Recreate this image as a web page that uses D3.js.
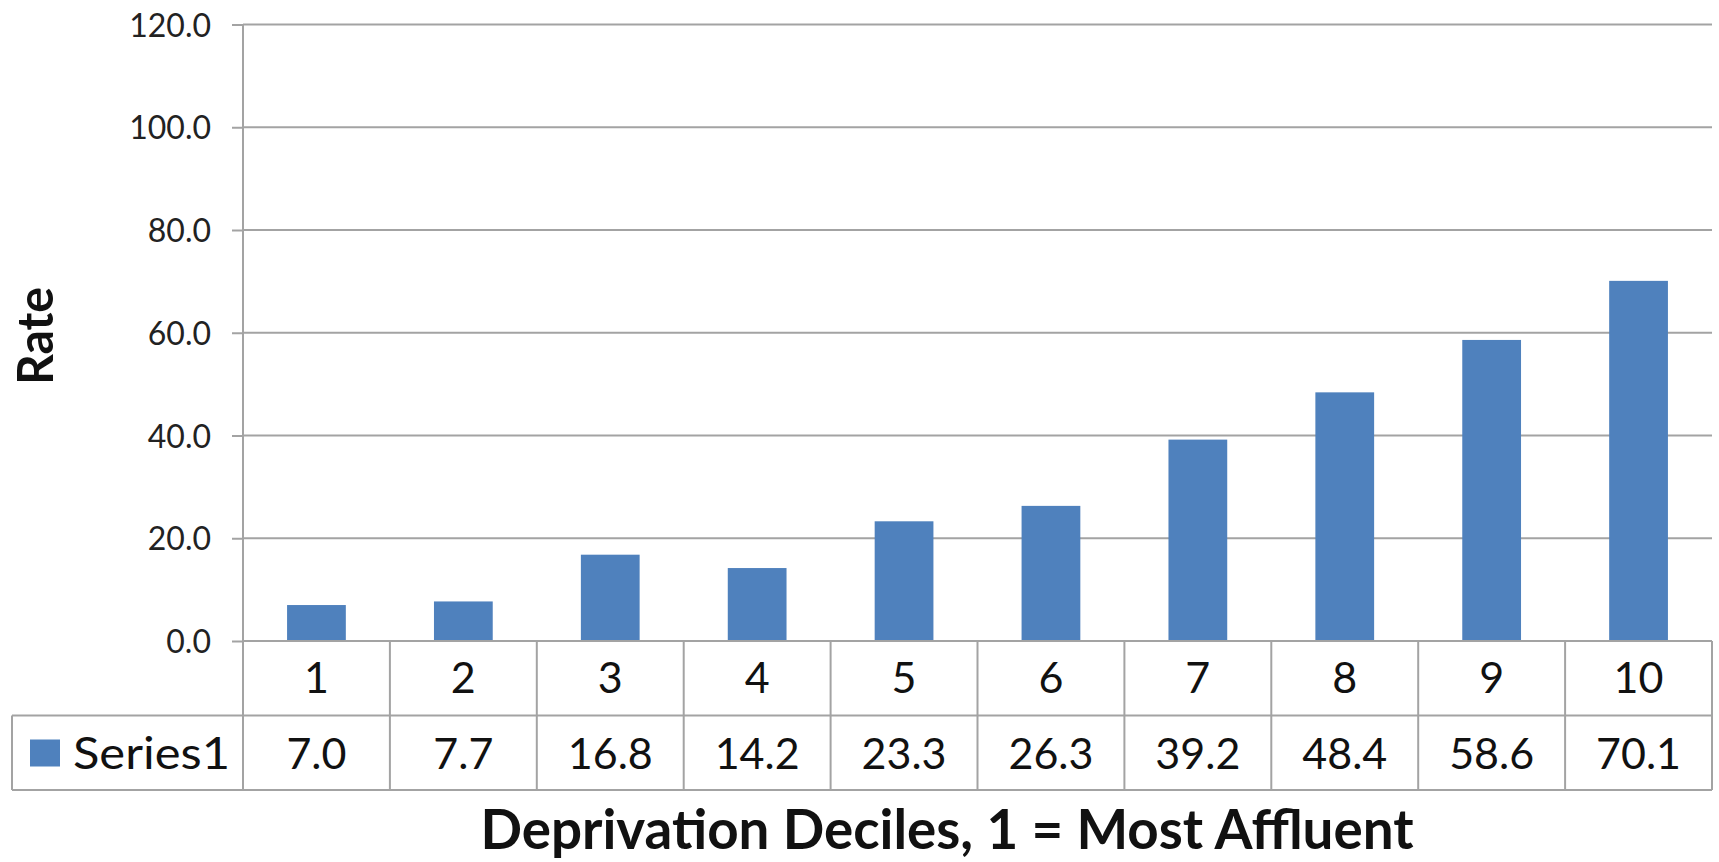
<!DOCTYPE html>
<html>
<head>
<meta charset="utf-8">
<script src="https://cdn.jsdelivr.net/npm/d3@7"></script>
<style>
  html, body { margin: 0; padding: 0; background: #fff; }
  svg { display: block; }
  text { font-family: Lato, "Open Sans", sans-serif; fill: #111; }
</style>
</head>
<body>
<svg id="chart" width="1719" height="862"></svg>
<script>
// Rate by deprivation decile
const categories = ["1", "2", "3", "4", "5", "6", "7", "8", "9", "10"];
const seriesName = "Series1";
const values = [7.0, 7.7, 16.8, 14.2, 23.3, 26.3, 39.2, 48.4, 58.6, 70.1];
const yTicks = [0, 20, 40, 60, 80, 100, 120];
const yTitle = "Rate";
const xTitle = "Deprivation Deciles, 1 = Most Affluent";

const W = 1719, H = 862;
const plot = { left: 243, right: 1712, top: 24.5, bottom: 641 };
const rowH = 74.5;           // height of each data-table row
const legendLeft = 12;
const lineColor = "#a3a3a3";
const barColor = "#4f81bd";

const svg = d3.select("#chart");

const y = d3.scaleLinear().domain([0, 120]).range([plot.bottom, plot.top]);
const xCell = d3.scaleBand().domain(categories).range([plot.left, plot.right]).padding(0);
const xBar = d3.scaleBand().domain(categories).range([plot.left, plot.right])
  .paddingInner(0.6).paddingOuter(0.3);

// Horizontal gridlines and y axis with tick labels
const yAxis = d3.axisLeft(y).tickValues(yTicks).tickSize(11).tickSizeOuter(0)
  .tickFormat(d3.format(".1f"));
const gy = svg.append("g").attr("transform", `translate(${plot.left},0)`).call(yAxis);
gy.select(".domain").remove();
gy.selectAll(".tick line").attr("stroke", lineColor).attr("stroke-width", 2);
gy.selectAll(".tick text")
  .attr("x", -32).attr("dy", "0.36em")
  .style("font-family", "Lato, sans-serif").style("font-size", "32px").style("fill", "#222");

svg.append("g").selectAll("line").data(yTicks.filter(d => d > 0)).join("line")
  .attr("x1", plot.left).attr("x2", plot.right)
  .attr("y1", d => y(d)).attr("y2", d => y(d))
  .attr("stroke", lineColor).attr("stroke-width", 2);

// Bars
svg.append("g").selectAll("rect").data(values).join("rect")
  .attr("x", (d, i) => xBar(categories[i]))
  .attr("width", xBar.bandwidth())
  .attr("y", d => y(d))
  .attr("height", d => y(0) - y(d))
  .attr("fill", barColor);

// Data table beneath the axis
const t = svg.append("g").attr("stroke", lineColor).attr("stroke-width", 2);
const row1 = plot.bottom, row2 = plot.bottom + rowH, row3 = plot.bottom + 2 * rowH;
t.append("line").attr("x1", plot.left).attr("x2", plot.right).attr("y1", row1).attr("y2", row1);
t.append("line").attr("x1", legendLeft).attr("x2", plot.right).attr("y1", row2).attr("y2", row2);
t.append("line").attr("x1", legendLeft).attr("x2", plot.right).attr("y1", row3).attr("y2", row3);
t.append("line").attr("x1", legendLeft).attr("x2", legendLeft).attr("y1", row2).attr("y2", row3);
// y axis line continues through the table
t.append("line").attr("x1", plot.left).attr("x2", plot.left).attr("y1", plot.top).attr("y2", row3);
t.selectAll(".div").data(categories).join("line").attr("class", "div")
  .attr("x1", d => xCell(d) + xCell.bandwidth()).attr("x2", d => xCell(d) + xCell.bandwidth())
  .attr("y1", row1).attr("y2", row3);

// Category labels
svg.append("g").selectAll("text").data(categories).join("text")
  .attr("x", d => xCell(d) + xCell.bandwidth() / 2)
  .attr("y", row1 + 52)
  .attr("text-anchor", "middle")
  .style("font-size", "43px")
  .text(d => d);

// Values row
svg.append("g").selectAll("text").data(values).join("text")
  .attr("x", (d, i) => xCell(categories[i]) + xCell.bandwidth() / 2)
  .attr("y", row2 + 53)
  .attr("text-anchor", "middle")
  .style("font-size", "43px")
  .text(d => d3.format(".1f")(d));

// Legend key in the table
svg.append("rect").attr("x", 30).attr("y", row2 + 24).attr("width", 30).attr("height", 27)
  .attr("fill", barColor);
svg.append("text").attr("x", 73).attr("y", row2 + 53)
  .style("font-size", "44px").attr("textLength", 157).attr("lengthAdjust", "spacingAndGlyphs")
  .text(seriesName);

// Axis titles
svg.append("text")
  .attr("transform", "translate(53,336) rotate(-90)")
  .attr("text-anchor", "middle")
  .style("font-size", "50px").style("font-weight", "bold")
  .attr("textLength", 98).attr("lengthAdjust", "spacingAndGlyphs")
  .text(yTitle);

svg.append("text")
  .attr("x", 947).attr("y", 849)
  .attr("text-anchor", "middle")
  .style("font-size", "55px").style("font-weight", "bold")
  .attr("textLength", 933).attr("lengthAdjust", "spacingAndGlyphs")
  .text(xTitle);
</script>
</body>
</html>
